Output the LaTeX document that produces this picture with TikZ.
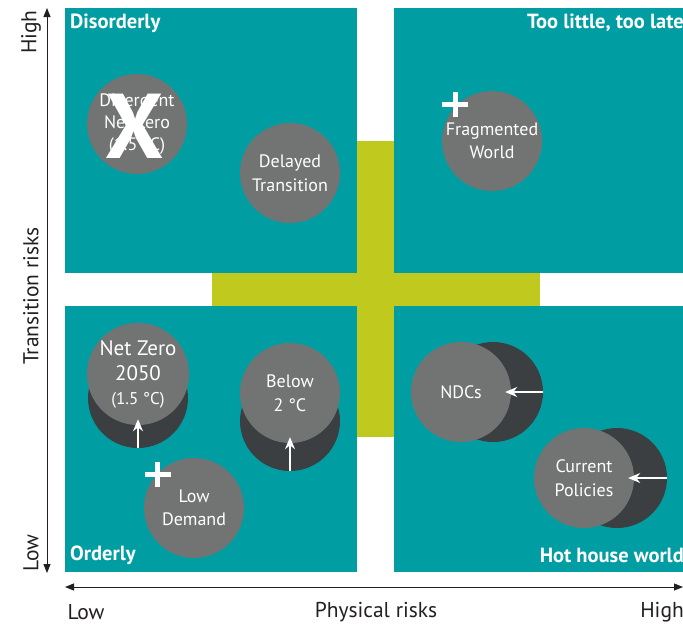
\documentclass[tikz,border=0pt]{standalone}
\usepackage{fontspec}
\setmainfont{PT Sans}
\usepackage{tikz}
\usetikzlibrary{shapes.geometric, arrows.meta}
\definecolor{quadteal}{RGB}{0,158,162}
\definecolor{crossgreen}{RGB}{192,202,30}
\definecolor{circgrey}{RGB}{114,116,116}
\definecolor{circdark}{RGB}{60,63,65}
\definecolor{axisgrey}{RGB}{35,31,32}
\tikzstyle{quadrant} = [fill=quadteal]
\tikzstyle{quadtitle} = [text=white, inner sep=0pt, font=\fontsize{20.5}{24}\selectfont\bfseries]
\tikzstyle{scenario} = [circle, minimum size=100pt, inner sep=0pt, fill=circgrey, text=white, align=center, font=\fontsize{18}{23.5}\selectfont]
\tikzstyle{shadow} = [circle, minimum size=100pt, inner sep=0pt, fill=circdark]
\tikzstyle{move} = [white, line width=1.3pt, -{Stealth[length=12pt,width=10pt]}, shorten >=-6pt]
\tikzstyle{axis} = [axisgrey, line width=0.9pt, {Triangle[length=9pt,width=7pt]}-{Triangle[length=9pt,width=7pt]}]
\tikzstyle{axislabel} = [text=axisgrey, inner sep=0pt, font=\fontsize{21.5}{24}\selectfont]
\tikzstyle{plusmark} = [white, line width=5pt]

\begin{document}
\begin{tikzpicture}[x=1pt, y=-1pt]
\useasboundingbox (0,0) rectangle (683,625);

% green cross behind the four quadrants
\fill [crossgreen] (357,141) rectangle (394,437);
\fill [crossgreen] (212,273) rectangle (540,306);

\fill [quadrant] (65,8) rectangle (357,273);
\fill [quadrant] (394,8) rectangle (683,273);
\fill [quadrant] (65,306) rectangle (357,572);
\fill [quadrant] (394,306) rectangle (683,572);

\node (disorderly) [quadtitle, anchor=west] at (70,23) {Disorderly};
\node (toolate) [quadtitle, anchor=east] at (684,23) {Too little, too late};
\node (orderly) [quadtitle, anchor=west] at (70,555) {Orderly};
\node (hothouse) [quadtitle, anchor=east] at (684,555) {Hot house world};

% scenarios
\node (dnz) [scenario, font=\fontsize{18}{22}\selectfont] at (137,124) {Divergent\\Net Zero\\(1.5 °C)};
\node (dnzx) [text=white, inner sep=0pt, font=\fontsize{92}{92}\selectfont\bfseries] at (135,126) {X};
\node (delayed) [scenario] at (290,173) {Delayed\\Transition};
\node (frag) [scenario] at (492,141) {Fragmented\\World};

\node (nzdark) [shadow] at (138,398) {};
\node (nz) [scenario, font=\fontsize{21}{25}\selectfont] at (138,374) {Net Zero\\2050\\[-1pt]{\fontsize{17}{20}\selectfont (1.5 °C)}};
\node (b2dark) [shadow] at (290,421) {};
\node (b2) [scenario] at (290,393) {Below\\2 °C};
\node (ndcdark) [shadow] at (493,392) {};
\node (ndc) [scenario] at (461,392) {NDCs};
\node (cpdark) [shadow] at (617,478) {};
\node (cp) [scenario] at (584,478) {Current\\Policies};
\node (lowdem) [scenario] at (194,508) {Low\\Demand};

\draw [move] (nzdark.south) -- (nz.south);
\draw [move] (b2dark.south) -- (b2.south);
\draw [move] (ndcdark.east) -- (ndc.east);
\draw [move] (cpdark.east) -- (cp.east);

% plus marks
\coordinate (fragplus) at (455,104.5);
\coordinate (lowplus) at (157.5,474.5);
\foreach \p in {fragplus, lowplus} {
  \draw [plusmark] ([xshift=-13pt]\p) -- ([xshift=13pt]\p);
  \draw [plusmark] ([yshift=-12.5pt]\p) -- ([yshift=12.5pt]\p);
}

% axes
\coordinate (ytop) at (47,8);
\coordinate (ybot) at (47,573);
\coordinate (xleft) at (65,587);
\coordinate (xright) at (683,587);
\draw [axis] (ybot) -- (ytop);
\draw [axis] (xleft) -- (xright);
\node (yhigh) [axislabel, rotate=90] at (31,32) {High};
\node (ytitle) [axislabel, rotate=90] at (31,296) {Transition risks};
\node (ylow) [axislabel, rotate=90] at (31,553) {Low};
\node (xlow) [axislabel] at (86,612) {Low};
\node (xtitle) [axislabel] at (376,612) {Physical risks};
\node (xhigh) [axislabel, anchor=east] at (684,612) {High};
\end{tikzpicture}
\end{document}
